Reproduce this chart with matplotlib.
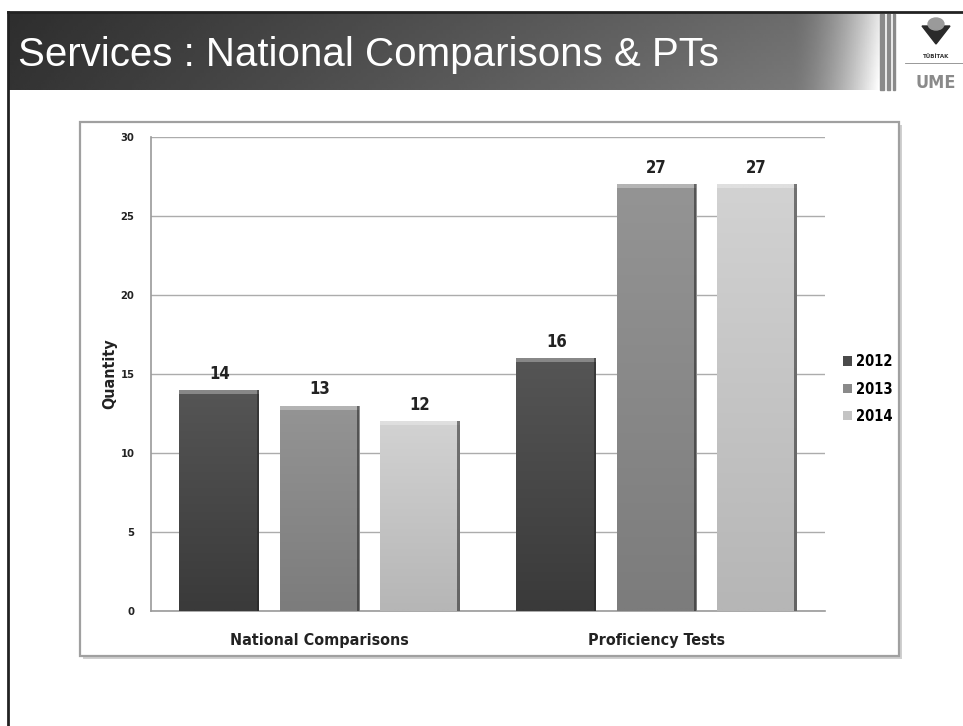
import numpy as np
import matplotlib
matplotlib.use("Agg")
import matplotlib.pyplot as plt
from matplotlib.patches import Rectangle, Polygon, Patch
from matplotlib.lines import Line2D
from matplotlib.font_manager import FontProperties

# data
categories = ["National Comparisons", "Proficiency Tests"]
years = ["2012", "2013", "2014"]
vals_2012 = [14, 16]
vals_2013 = [13, 27]
vals_2014 = [12, 27]
series = [vals_2012, vals_2013, vals_2014]
yticks = [0, 5, 10, 15, 20, 25, 30]

# (top colour, bottom colour) per year
shades = [("#555555", "#3a3a3a"), ("#949494", "#7c7c7c"), ("#d2d2d2", "#b6b6b6")]
legend_cols = ["#4a4a4a", "#8a8a8a", "#c4c4c4"]

def narrow(size):
    return FontProperties(family="DejaVu Sans", stretch="condensed", weight="bold", size=size)

W, H = 963, 726
fig = plt.figure(figsize=(W / 100, H / 100), dpi=100)
fig.patch.set_facecolor("white")

def fx(px):
    return px / W

def fy(py):
    return 1 - py / H

# page frame lines
fig.add_artist(Line2D([fx(8), fx(8)], [fy(12), fy(726)], color="#222222", lw=2))
fig.add_artist(Line2D([fx(8), fx(963)], [fy(12), fy(12)], color="#222222", lw=2))

# title banner with horizontal gradient
bax = fig.add_axes([fx(9), fy(90), fx(870), (90 - 13) / H])
grad = np.linspace(0, 1, 400)
vals = 0.2 + 0.3 * grad + 0.5 * np.clip((grad - 0.9) / 0.1, 0, 1) ** 1.6
img = np.tile(vals, (20, 1))
vshade = np.linspace(0.9, 1.0, 20)[:, None]
bax.imshow(np.clip(img * vshade, 0, 1), cmap="gray", vmin=0, vmax=1, aspect="auto",
           extent=[0, 1, 0, 1])
bax.set_axis_off()
fig.text(fx(18), fy(55), "Services : National Comparisons & PTs", color="white",
         fontsize=29, family="Liberation Sans", va="center", ha="left")

# logo strips and mark
for x0, w in [(880, 4), (887, 3), (893, 2)]:
    fig.add_artist(Rectangle((fx(x0), fy(90)), fx(w), (90 - 14) / H, color="#8a8a8a",
                             transform=fig.transFigure))
fig.add_artist(Polygon([[fx(922), fy(26)], [fx(950), fy(26)], [fx(936), fy(44)]],
                       closed=True, color="#2a2a2a", transform=fig.transFigure))
fig.add_artist(plt.Circle((fx(936), fy(24)), 6 / H, color="#9a9a9a", transform=fig.transFigure))
fig.text(fx(936), fy(57), "TÜBİTAK", fontsize=4, ha="center", va="center",
         color="#333333", weight="bold")
fig.add_artist(Line2D([fx(905), fx(963)], [fy(63), fy(63)], color="#888888", lw=0.6))
fig.text(fx(936), fy(83), "UME", ha="center", va="center", color="#8a8a8a",
         fontproperties=narrow(13))

# chart frame, kept behind the axes
fig.add_artist(Rectangle((fx(83), fy(659)), fx(819), (659 - 125) / H, fc="#d0d0d0",
                         ec="none", transform=fig.transFigure, zorder=-3))
fig.add_artist(Rectangle((fx(80), fy(656)), fx(819), (656 - 122) / H, fc="white",
                         ec="#a0a0a0", lw=1.6, transform=fig.transFigure, zorder=-2))

ax = fig.add_axes([fx(151), fy(611), fx(825 - 151), (611 - 137) / H])
ax.set_facecolor("none")
for s in ["top", "right"]:
    ax.spines[s].set_visible(False)
for s in ["left", "bottom"]:
    ax.spines[s].set_color("#9a9a9a")
    ax.spines[s].set_linewidth(1.2)
ax.set_yticks(yticks)
ax.set_yticklabels([str(t) for t in yticks], fontproperties=narrow(8), color="#222222")
ax.tick_params(axis="y", length=0, pad=12)
ax.tick_params(axis="x", length=0, pad=16)
ax.set_xticks(range(len(categories)))
ax.set_xticklabels(categories, fontproperties=narrow(11.5), color="#222222")
ax.grid(axis="y", color="#acacac", lw=1.0)
ax.set_axisbelow(True)
ax.set_ylabel("Quantity", fontproperties=narrow(11.5), labelpad=2, color="#222222")

step = 0.297
width = 0.237
x = np.arange(len(categories))
for i, (vals_y, (c_top, c_bot)) in enumerate(zip(series, shades)):
    xs = x + (i - 1) * step
    bars = ax.bar(xs, vals_y, width, color=c_bot, edgecolor="none", zorder=2,
                  label=years[i])
    for b, v in zip(bars, vals_y):
        x0 = b.get_x()
        top = np.array(matplotlib.colors.to_rgb(c_top))
        bot = np.array(matplotlib.colors.to_rgb(c_bot))
        t = np.linspace(0, 1, 60)[:, None]
        g = bot[None, :] * (1 - t) + top[None, :] * t
        g = np.repeat(g[:, None, :], 2, axis=1)
        im = ax.imshow(g, extent=[x0, x0 + width, 0, v], origin="lower", aspect="auto",
                       zorder=3, interpolation="bilinear")
        im.set_clip_path(b)
        # bevel on top and shadow on the right
        ax.add_patch(Rectangle((x0, v - 0.25), width, 0.25, color="white", alpha=0.3,
                               zorder=4, lw=0))
        ax.add_patch(Rectangle((x0 + width - 0.007, 0), 0.007, v, color="#222222",
                               alpha=0.55, zorder=4, lw=0))
        ax.text(x0 + width / 2, v + 0.45, str(v), ha="center", va="bottom",
                fontproperties=narrow(12), color="#222222")

ax.set_xlim(-0.5, 1.5)
ax.set_ylim(0, 30)

# legend
handles = [Patch(facecolor=c, edgecolor="none") for c in legend_cols]
fig.legend(handles, years, loc="center left", bbox_to_anchor=(fx(830), fy(389)),
           frameon=False, prop=narrow(10.5), handlelength=0.6, handleheight=0.6,
           handletextpad=0.3, labelspacing=0.85)

fig.savefig("out.png", dpi=100)
